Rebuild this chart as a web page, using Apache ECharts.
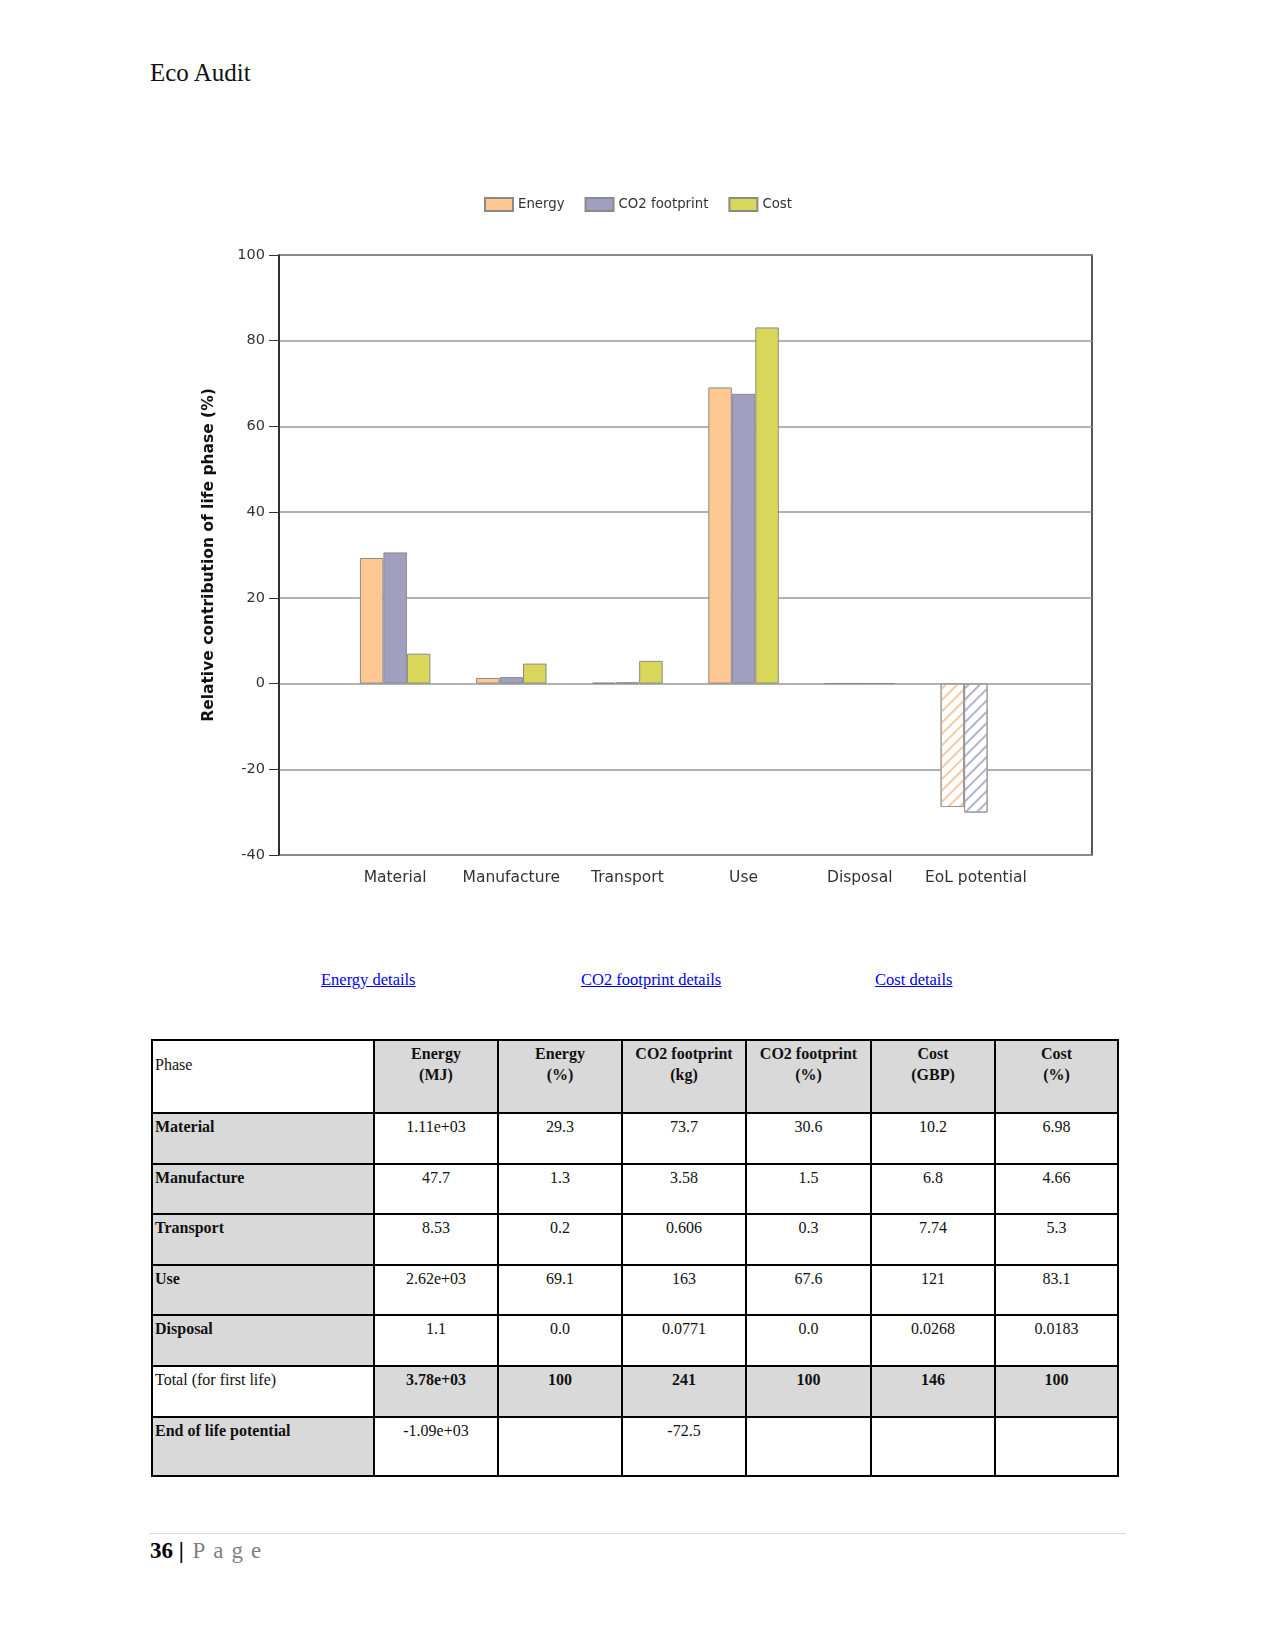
<!DOCTYPE html>
<html>
<head>
<meta charset="utf-8">
<script src="https://cdn.jsdelivr.net/npm/echarts@6/dist/echarts.min.js"></script>
<style>
  html, body { margin:0; padding:0; background:#fff; }
  body { width:1275px; height:1650px; position:relative; overflow:hidden; font-family:"Liberation Serif", serif; }
  #chart { position:absolute; left:0; top:0; width:1275px; height:940px; }
  .title { position:absolute; left:150px; top:59px; font-size:25px; line-height:28px; color:#111; }
  .link { position:absolute; top:970px; font-size:16.5px; line-height:20px; color:#0000ee; text-decoration:underline; }
  table { position:absolute; left:151px; top:1039px; border-collapse:collapse; table-layout:fixed; font-size:16px; color:#111; }
  td { border:2px solid #000; vertical-align:top; padding:2px 2px 0 2px; line-height:21px; text-align:center; overflow:hidden; }
  td.ph { text-align:left; }
  td.mid { padding-top:13px; }
  .g { background:#d9d9d9; }
  .b { font-weight:bold; }
  .hr { position:absolute; left:150px; top:1533px; width:976px; height:1px; background:#d9d9d9; }
  .foot { position:absolute; left:150px; top:1537px; font-size:23px; line-height:28px; }
  .foot .n { font-weight:bold; color:#000; }
  .foot .p { color:#7f7f7f; letter-spacing:8px; margin-left:3px; }
</style>
</head>
<body>
<div class="title">Eco Audit</div>
<div id="chart"></div>
<a class="link" style="left:321px">Energy details</a>
<a class="link" style="left:581px">CO2 footprint details</a>
<a class="link" style="left:875px">Cost details</a>
<table id="tbl"></table>
<div class="hr"></div>
<div class="foot"><span class="n">36 | </span><span class="p">Page</span></div>
<script>
// ---- chart data ----
const categories = ['Material', 'Manufacture', 'Transport', 'Use', 'Disposal', 'EoL potential'];
const seriesNames = ['Energy', 'CO2 footprint', 'Cost'];
const energyPct = [29.3, 1.3, 0.2, 69.1, 0.0, -28.8];
const co2Pct = [30.6, 1.5, 0.3, 67.6, 0.0, -30.1];
const costPct = [6.98, 4.66, 5.3, 83.1, 0.0183, null];
const yMin = -40, yMax = 100, yStep = 20;
const yTitle = 'Relative contribution of life phase (%)';

// ---- table data ----
const tableHeader = ['Phase', 'Energy<br>(MJ)', 'Energy<br>(%)', 'CO2 footprint<br>(kg)', 'CO2 footprint<br>(%)', 'Cost<br>(GBP)', 'Cost<br>(%)'];
const tablePhases = ['Material', 'Manufacture', 'Transport', 'Use', 'Disposal', 'Total (for first life)', 'End of life potential'];
const energyMJ = ['1.11e+03', '47.7', '8.53', '2.62e+03', '1.1', '3.78e+03', '-1.09e+03'];
const energyPctTxt = ['29.3', '1.3', '0.2', '69.1', '0.0', '100', ''];
const co2Kg = ['73.7', '3.58', '0.606', '163', '0.0771', '241', '-72.5'];
const co2PctTxt = ['30.6', '1.5', '0.3', '67.6', '0.0', '100', ''];
const costGBP = ['10.2', '6.8', '7.74', '121', '0.0268', '146', ''];
const costPctTxt = ['6.98', '4.66', '5.3', '83.1', '0.0183', '100', ''];

// ---- build table ----
const colW = [222, 124, 124, 124, 125, 124, 123];
const rowH = [73, 51, 50, 51, 50, 51, 51, 59];
(function () {
  const t = document.getElementById('tbl');
  let html = '<colgroup>' + colW.map(w => '<col style="width:' + w + 'px">').join('') + '</colgroup>';
  html += '<tr style="height:' + rowH[0] + 'px">' + tableHeader.map((h, i) =>
    i === 0 ? '<td class="ph mid">' + h + '</td>' : '<td class="g b">' + h + '</td>').join('') + '</tr>';
  const cols = [energyMJ, energyPctTxt, co2Kg, co2PctTxt, costGBP, costPctTxt];
  tablePhases.forEach((p, r) => {
    const isTotal = r === 5;
    html += '<tr style="height:' + rowH[r + 1] + 'px">';
    html += isTotal ? '<td class="ph">' + p + '</td>' : '<td class="ph g b">' + p + '</td>';
    cols.forEach(c => {
      html += isTotal ? '<td class="g b">' + c[r] + '</td>' : '<td>' + c[r] + '</td>';
    });
    html += '</tr>';
  });
  t.innerHTML = html;
})();

// ---- chart ----
const colors = ['#FFC792', '#A19FBF', '#D8D75A'];
const hatchColors = ['#F7C9A0', '#B3B1D3'];
const border = '#8a8a8a';
function buildData(vals, si) {
  return vals.map((v, i) => {
    if (v === null) return '-';
    if (categories[i] === 'EoL potential') {
      return {
        value: v,
        itemStyle: {
          color: '#ffffff',
          borderColor: '#999',
          decal: { symbol: 'rect', symbolSize: 1, dashArrayX: [1, 0], dashArrayY: [1.2, 6], rotation: -Math.PI / 4, color: hatchColors[si] }
        }
      };
    }
    return v;
  });
}
const seriesVals = [energyPct, co2Pct, costPct];
const chart = echarts.init(document.getElementById('chart'), null, { renderer: 'canvas' });
chart.setOption({
  animation: false,
  textStyle: { fontFamily: 'DejaVu Sans' },
  legend: {
    data: seriesNames, left: 479, top: 192, itemWidth: 28, itemHeight: 13, itemGap: 20, icon: 'rect',
    textStyle: { fontSize: 13.3, color: '#333', fontFamily: 'DejaVu Sans' }
  },
  grid: [
    { left: 279, top: 255, width: 813, height: 600, show: true, borderColor: '#222', borderWidth: 1.5 },
    { left: 337.07, top: 255, width: 696.86, height: 600 }
  ],
  xAxis: [
    { type: 'category', gridIndex: 0, show: false, data: [''] },
    { type: 'category', gridIndex: 1, data: categories, axisLine: { show: false }, axisTick: { show: false },
      axisLabel: { fontSize: 15.5, color: '#333', margin: 15, interval: 0, fontFamily: 'DejaVu Sans' } }
  ],
  yAxis: [
    { type: 'value', gridIndex: 0, min: yMin, max: yMax, interval: yStep,
      axisLine: { show: true, lineStyle: { color: '#222', width: 1.5 } },
      axisTick: { show: true, length: 10, lineStyle: { color: '#333', width: 1 } },
      axisLabel: { fontSize: 14.5, color: '#333', margin: 14, fontFamily: 'DejaVu Sans' },
      splitLine: { show: true, lineStyle: { color: '#999', width: 1.5 } },
      name: yTitle, nameLocation: 'middle', nameRotate: 90, nameGap: 62,
      nameTextStyle: { fontWeight: 'bold', fontSize: 15.5, color: '#111', fontFamily: 'DejaVu Sans' } },
    { type: 'value', gridIndex: 1, min: yMin, max: yMax, interval: yStep, show: false, splitLine: { show: false } }
  ],
  series: seriesNames.map((n, si) => ({
    name: n, type: 'bar', xAxisIndex: 1, yAxisIndex: 1,
    barWidth: 23.5, barGap: '0%',
    itemStyle: { color: colors[si], borderColor: border, borderWidth: 1 },
    data: buildData(seriesVals[si], si)
  }))
});
</script>
</body>
</html>
